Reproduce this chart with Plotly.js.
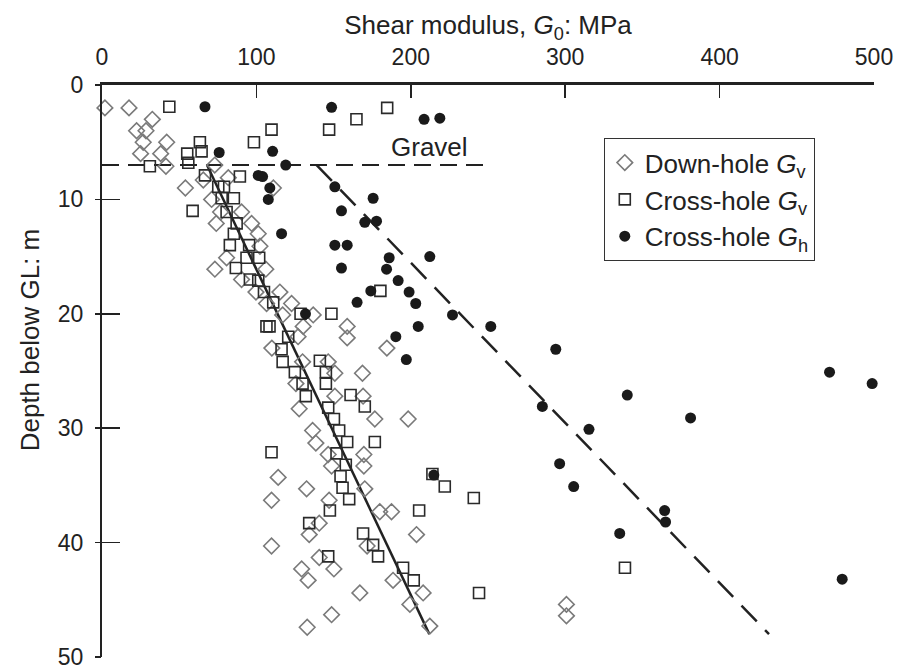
<!DOCTYPE html>
<html>
<head>
<meta charset="utf-8">
<script src="https://cdn.plot.ly/plotly-3.0.1.min.js"></script>
<style>html,body{margin:0;padding:0;background:#fff;}#chart{width:900px;height:671px;}</style>
</head>
<body>
<div id="chart"></div>
<script>
// Down-hole Gv (MPa) against depth (m)
const downholeG = [1.9,17.5,32.6,22.4,28.5,26.7,41.9,25,38,41.4,73,81.8,65.6,54,111,71,90.4,76.8,74,96.9,101.2,102.3,80.7,73.1,106.1,90.4,99.7,115.2,106.6,122.8,117,136.8,130.3,158.8,127,158.8,110,184.5,146.5,129.9,150.8,168.7,125.6,150.8,169.1,127.7,176.7,198.3,136.4,138.5,169.6,146.5,169.6,148.7,114.1,132.5,170.2,109.8,147.1,179.9,187.5,140.7,134.2,203.7,109.8,171.7,140.7,150.2,129.3,133.5,188.5,167,208,199.4,300.8,300.8,148.7,132.9,212.3];
const downholeZ = [2,2,3,4,4,5,5,6,6,7.1,7,8.1,8.3,9,9,10,11.1,11.1,12.1,12.1,13,14.1,15.1,16.1,16.1,17,18.1,18.1,19.1,19.1,20.1,20.1,21.1,21.1,22,22.1,23,23,24.2,24.2,25.2,25.2,26.1,27.2,27.2,28.3,29.2,29.2,30.2,31.3,32.3,32.3,33.3,33.3,34.3,35.3,35.3,36.3,36.3,37.3,37.3,38.3,39.3,39.3,40.3,40.3,41.3,42.3,42.3,43.3,43.3,44.4,44.4,45.4,45.4,46.4,46.3,47.4,47.3];

// Cross-hole Gv
const crossVG = [43.6,184.7,164.8,109.8,147.1,63.4,98.4,64.5,55.2,55.9,31,66.7,89.3,75.3,79,77.5,85.4,58.7,80.7,87.2,85.4,82.8,95.3,93.6,101.8,86.7,95.8,101.2,104.9,180.3,110.9,148.6,128.6,106.5,108.5,120.6,116.3,117,141.1,124.9,145,129.9,145,132,161,146.5,170.2,150.2,153.6,158.8,176.7,109.8,151.9,157.9,154.5,214,155.8,222,160.1,240.8,147.6,205.4,134.2,169.1,175.6,146.5,178.8,195,338.7,201.9,244.2];
const crossVZ = [1.9,2,3,3.9,3.9,5,5,5.8,6,6.8,7.1,7.9,8,8.9,8.9,9.9,9.9,11,11.1,12.1,13,14,14,15.1,15.1,16,17,17.1,18.1,18,19,20,20,21.1,21.1,22,23.1,24.2,24.1,25.1,25.1,26.1,26.1,27.2,27.1,28.2,28.1,29.2,30.2,31.2,31.2,32.1,32.2,33.2,34.2,34,35.2,35.1,36.2,36.1,37.2,37.2,38.3,39.2,40.2,41.2,41.2,42.2,42.2,43.3,44.4];

// Cross-hole Gh
const crossHG = [66.7,148.7,208.6,218.8,75.9,110.5,119,101.2,104,108.7,107.7,150.8,175.6,155.1,170.2,177.8,116.3,150.8,158.8,212.3,186,155.1,184.3,191.8,198.9,174.1,165.2,203.2,227,131.8,204.8,251.8,190.3,293.9,197.1,471.2,498.8,340.2,285.2,381.2,315.4,296.4,214.9,305.5,364.4,365,335.3,479.4];
const crossHZ = [1.9,1.95,3,2.9,5.9,5.8,7,7.9,8,9,10,8.9,9.9,11,12,11.9,13,14,14,15,15.1,16,16.1,17.1,18.1,18,19,19.1,20.1,20,21.1,21.1,22,23.1,24,25.1,26.1,27.1,28.1,29.1,30.1,33.1,34.1,35.1,37.2,38.2,39.2,43.2];

// Trend lines and gravel boundary
const trendVG = [68, 212], trendVZ = [7, 48];
const trendHG = [139, 432], trendHZ = [7, 48];
const gravelG = [0, 250], gravelZ = [7, 7];

const xTicks = [0, 100, 200, 300, 400, 500];
const yTicks = [0, 10, 20, 30, 40, 50];

const FONT = 'Liberation Sans, Arial, sans-serif';
const INK = '#222';
const TICK_FS = 23;
const TEXT_FS = 26;

const traces = [
  {x: gravelG, y: gravelZ, mode: 'lines', showlegend: false, hoverinfo: 'skip',
   line: {color: INK, width: 2, dash: '17px,9px'}},
  {x: trendVG, y: trendVZ, mode: 'lines', showlegend: false, hoverinfo: 'skip',
   line: {color: INK, width: 2.5}},
  {x: trendHG, y: trendHZ, mode: 'lines', showlegend: false, hoverinfo: 'skip',
   line: {color: INK, width: 2.5, dash: '22px,12px'}},
  {x: downholeG, y: downholeZ, mode: 'markers', name: 'Down-hole <i>G</i><sub>v</sub>',
   legendgroup: 'a', cliponaxis: false,
   marker: {symbol: 'diamond-open', size: 12, color: '#7a7a7a', line: {width: 1.6, color: '#7a7a7a'}}},
  {x: crossVG, y: crossVZ, mode: 'markers', name: 'Cross-hole <i>G</i><sub>v</sub>',
   legendgroup: 'b', cliponaxis: false,
   marker: {symbol: 'square-open', size: 11, color: '#2a2a2a', line: {width: 1.6, color: '#2a2a2a'}}},
  {x: crossHG, y: crossHZ, mode: 'markers', name: 'Cross-hole <i>G</i><sub>h</sub>',
   legendgroup: 'c', cliponaxis: false,
   marker: {symbol: 'circle', size: 11, color: '#1a1a1a'}},
  // outer stubs of the depth ticks
  {x: [0], y: [0], yaxis: 'y2', mode: 'markers', showlegend: false, hoverinfo: 'skip',
   marker: {opacity: 0}}
];

const layout = {
  width: 900, height: 671,
  margin: {l: 102, r: 26, t: 85, b: 14},
  paper_bgcolor: '#fff', plot_bgcolor: '#fff',
  font: {family: FONT, color: INK, size: TICK_FS},
  showlegend: true,
  legend: {
    x: 0.65, y: 0.907, xanchor: 'left', yanchor: 'top',
    bordercolor: '#333', borderwidth: 1, bgcolor: '#fff',
    font: {family: FONT, size: TEXT_FS, color: INK},
    traceorder: 'grouped', tracegroupgap: 0, itemwidth: 30
  },
  xaxis: {
    side: 'top', range: [0, 500], tickvals: xTicks, ticktext: xTicks.map(String),
    showgrid: false, zeroline: false, showline: true, linewidth: 3, linecolor: INK,
    ticks: 'inside', ticklen: 13, tickwidth: 1.5, tickcolor: INK,
    ticklabelstandoff: 8,
    tickfont: {family: FONT, size: TICK_FS, color: INK},
    title: {text: 'Shear modulus, <i>G</i><sub>0</sub>: MPa', font: {family: FONT, size: TEXT_FS, color: INK}, standoff: 0}
  },
  yaxis: {
    range: [50, 0], tickvals: yTicks, ticktext: yTicks.map(String),
    showgrid: false, zeroline: false, showline: true, linewidth: 2, linecolor: INK,
    ticks: 'inside', ticklen: 18, tickwidth: 1.5, tickcolor: INK,
    ticklabelstandoff: 12,
    tickfont: {family: FONT, size: TICK_FS, color: INK}
  },
  yaxis2: {
    overlaying: 'y', side: 'left', range: [50, 0], tickvals: yTicks,
    showticklabels: false, showgrid: false, zeroline: false, showline: false,
    ticks: 'outside', ticklen: 6, tickwidth: 1.5, tickcolor: INK
  },
  annotations: [
    {text: 'Gravel', x: 212, y: 5.4, xref: 'x', yref: 'y', showarrow: false,
     font: {family: FONT, size: TEXT_FS, color: INK}},
    {text: 'Depth below GL: m', x: -0.093, y: 0.554, xref: 'paper', yref: 'paper',
     xanchor: 'center', yanchor: 'middle',
     showarrow: false, textangle: -90, font: {family: FONT, size: TEXT_FS, color: INK}}
  ]
};

Plotly.newPlot('chart', traces, layout, {staticPlot: true, displayModeBar: false});
</script>
</body>
</html>
